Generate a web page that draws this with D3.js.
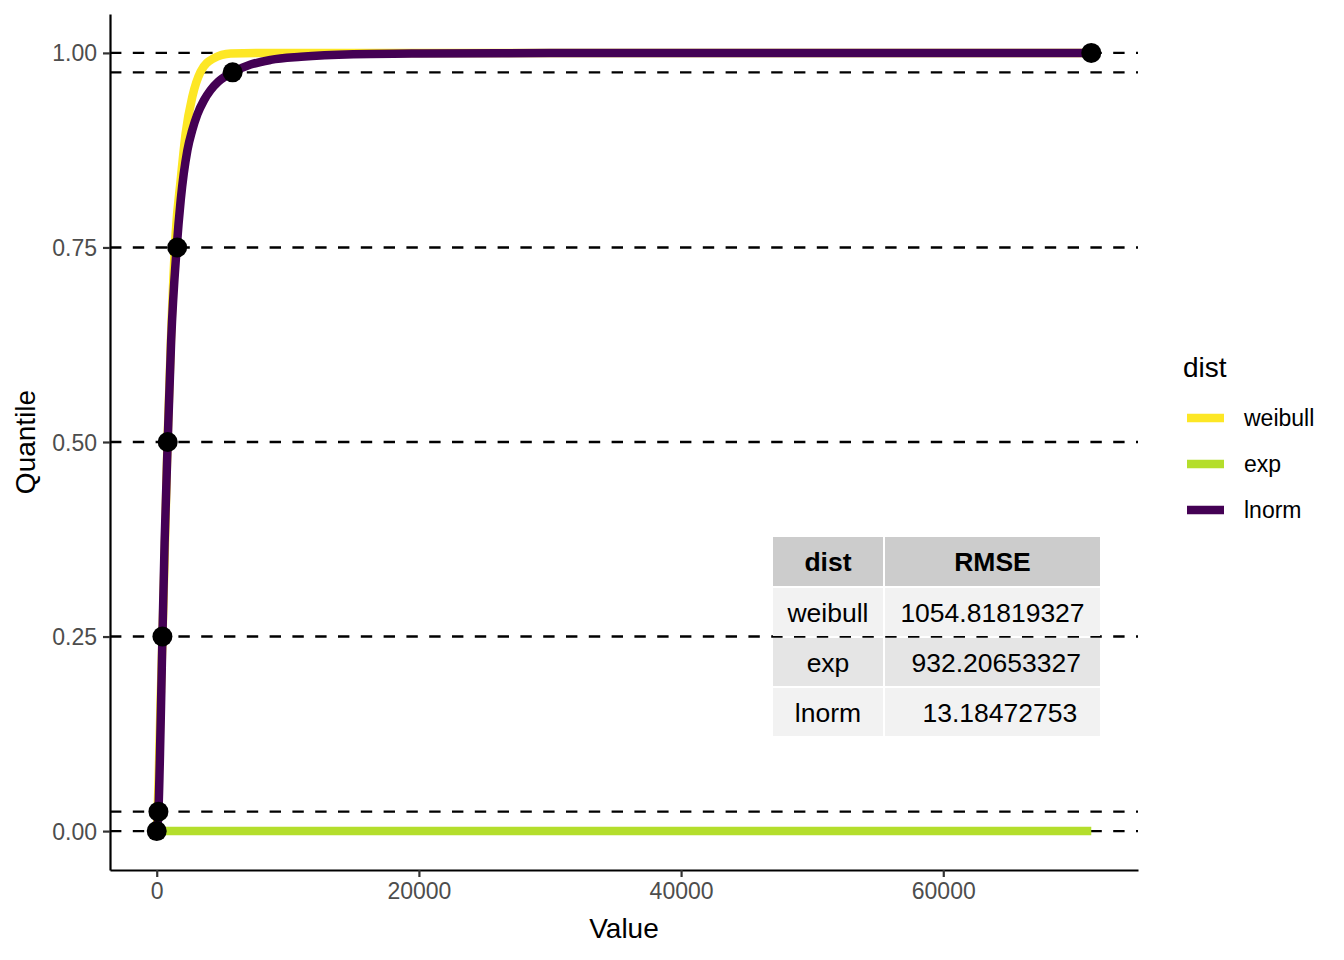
<!DOCTYPE html>
<html>
<head>
<meta charset="utf-8">
<script src="https://cdn.jsdelivr.net/npm/d3@7"></script>
<style>
  html, body { margin: 0; padding: 0; background: #fff; }
  svg { display: block; font-family: "Liberation Sans", Arial, Helvetica, sans-serif; }
</style>
</head>
<body>
<svg id="chart" width="1344" height="960"></svg>
<script>
// ---------- data ----------
const distNames = ["weibull", "exp", "lnorm"];
const distColors = ["#FDE725", "#B4DE2C", "#440154"];

// fitted curves: [value, probability]
const weibullCurve = [
  [0, 0], [60, 0.02], [150, 0.07], [300, 0.17], [440, 0.25], [600, 0.35],
  [820, 0.50], [1100, 0.64], [1450, 0.769], [1830, 0.837], [2210, 0.897],
  [2720, 0.944], [3350, 0.976], [4340, 0.993], [5640, 0.9993], [8000, 1.0],
  [71290, 1.0]
];
const expCurve = [
  [0, 0], [71290, 0]
];
const lnormCurve = [
  [0, 0], [80, 0.01], [130, 0.025], [250, 0.10], [350, 0.18], [434, 0.25],
  [600, 0.37], [838, 0.50], [1100, 0.63], [1524, 0.75], [1830, 0.811],
  [2340, 0.875], [2700, 0.900], [3100, 0.921], [3600, 0.939], [4100, 0.952],
  [4700, 0.963], [5790, 0.975], [7160, 0.985], [8690, 0.991], [11000, 0.995],
  [15000, 0.9982], [20000, 0.9992], [30000, 0.9998], [50000, 1.0], [71290, 1.0]
];
const curves = [weibullCurve, expCurve, lnormCurve];

// empirical quantile points
const quantileProbs = [0, 0.025, 0.25, 0.5, 0.75, 0.975, 1];
const quantileValues = [0, 130, 434, 838, 1560, 5790, 71290];

// reference lines
const hlineProbs = [0, 0.025, 0.25, 0.5, 0.75, 0.975, 1];

// ticks
const xTicks = [0, 20000, 40000, 60000];
const yTicks = [0, 0.25, 0.5, 0.75, 1];

// RMSE table
const tableHeader = ["dist", "RMSE"];
const tableDist = ["weibull", "exp", "lnorm"];
const tableRMSE = ["1054.81819327", " 932.20653327", "  13.18472753"];

// ---------- layout ----------
const svg = d3.select("#chart");
const panel = { left: 110, right: 1138, top: 14, bottom: 870 };

const xMin = d3.min(quantileValues), xMax = d3.max(quantileValues);
const xPad = (xMax - xMin) * 0.05;
const x = d3.scaleLinear().domain([xMin - xPad, xMax + xPad]).range([panel.left, panel.right]);
const y = d3.scaleLinear().domain([-0.05, 1.05]).range([panel.bottom, panel.top]);
const color = d3.scaleOrdinal().domain(distNames).range(distColors);

// dashed reference lines
svg.append("g").selectAll("line").data(hlineProbs).join("line")
  .attr("x1", panel.left).attr("x2", panel.right)
  .attr("y1", d => y(d)).attr("y2", d => y(d))
  .attr("stroke", "#000").attr("stroke-width", 2.4)
  .attr("stroke-dasharray", "11.4 11.4");

// curves
const line = d3.line().x(d => x(d[0])).y(d => y(d[1])).curve(d3.curveMonotoneX);
svg.append("g").selectAll("path").data(curves).join("path")
  .attr("d", d => line(d))
  .attr("fill", "none")
  .attr("stroke", (d, i) => color(distNames[i]))
  .attr("stroke-width", 8.5)
  .attr("stroke-linejoin", "round");

// quantile points
svg.append("g").selectAll("circle").data(quantileValues).join("circle")
  .attr("cx", d => x(d))
  .attr("cy", (d, i) => y(quantileProbs[i]))
  .attr("r", 10)
  .attr("fill", "#000");

// axes
const xAxis = svg.append("g").attr("transform", `translate(0,${panel.bottom})`)
  .call(d3.axisBottom(x).tickValues(xTicks).tickFormat(d3.format("d")).tickSizeInner(7).tickSizeOuter(0).tickPadding(6));
const yAxis = svg.append("g").attr("transform", `translate(${panel.left},0)`)
  .call(d3.axisLeft(y).tickValues(yTicks).tickFormat(d3.format(".2f")).tickSizeInner(7).tickSizeOuter(0).tickPadding(6));
[xAxis, yAxis].forEach(g => {
  g.select(".domain").attr("stroke", "#000").attr("stroke-width", 2.2);
  g.selectAll(".tick line").attr("stroke", "#333").attr("stroke-width", 2.2);
  g.selectAll(".tick text").attr("fill", "#4D4D4D").style("font-size", "23px")
    .style("font-family", "'Liberation Sans', Arial, sans-serif");
});
xAxis.selectAll(".tick text").attr("dy", "0.71em");
yAxis.selectAll(".tick text").attr("dy", "0.35em");

// axis titles
svg.append("text").attr("x", (panel.left + panel.right) / 2).attr("y", 938)
  .attr("text-anchor", "middle").style("font-size", "28px").attr("fill", "#000").text("Value");
svg.append("text").attr("transform", `translate(35,${(panel.top + panel.bottom) / 2}) rotate(-90)`)
  .attr("text-anchor", "middle").style("font-size", "28px").attr("fill", "#000").text("Quantile");

// legend
const legend = svg.append("g");
legend.append("text").attr("x", 1183).attr("y", 377).style("font-size", "28px").attr("fill", "#000").text("dist");
const items = legend.selectAll("g.item").data(distNames).join("g")
  .attr("class", "item")
  .attr("transform", (d, i) => `translate(0,${418 + i * 46})`);
items.append("line").attr("x1", 1187).attr("x2", 1224).attr("y1", 0).attr("y2", 0)
  .attr("stroke", d => color(d)).attr("stroke-width", 8.5);
items.append("text").attr("x", 1244).attr("y", 0).attr("dy", "0.36em")
  .style("font-size", "23px").attr("fill", "#000").text(d => d);

// table
const tbl = svg.append("g");
const colX = [772, 884, 1101];
const rowY = [536, 587, 637, 687, 737];
const rows = [tableHeader].concat(tableDist.map((d, i) => [d, tableRMSE[i]]));
const rowFill = ["#CCCCCC", "#F2F2F2", "#E5E5E5", "#F2F2F2"];
rows.forEach((r, ri) => {
  r.forEach((cell, ci) => {
    tbl.append("rect")
      .attr("x", colX[ci] + 1).attr("y", rowY[ri] + 1)
      .attr("width", colX[ci + 1] - colX[ci] - 2).attr("height", rowY[ri + 1] - rowY[ri] - 2)
      .attr("fill", rowFill[ri]);
    tbl.append("text")
      .attr("x", (colX[ci] + colX[ci + 1]) / 2)
      .attr("y", (rowY[ri] + rowY[ri + 1]) / 2)
      .attr("dy", "0.36em")
      .attr("text-anchor", "middle")
      .attr("xml:space", "preserve")
      .style("white-space", "pre")
      .style("font-size", "26.5px")
      .style("font-weight", ri === 0 ? "bold" : "normal")
      .attr("fill", "#000")
      .text(cell);
  });
});
</script>
</body>
</html>
